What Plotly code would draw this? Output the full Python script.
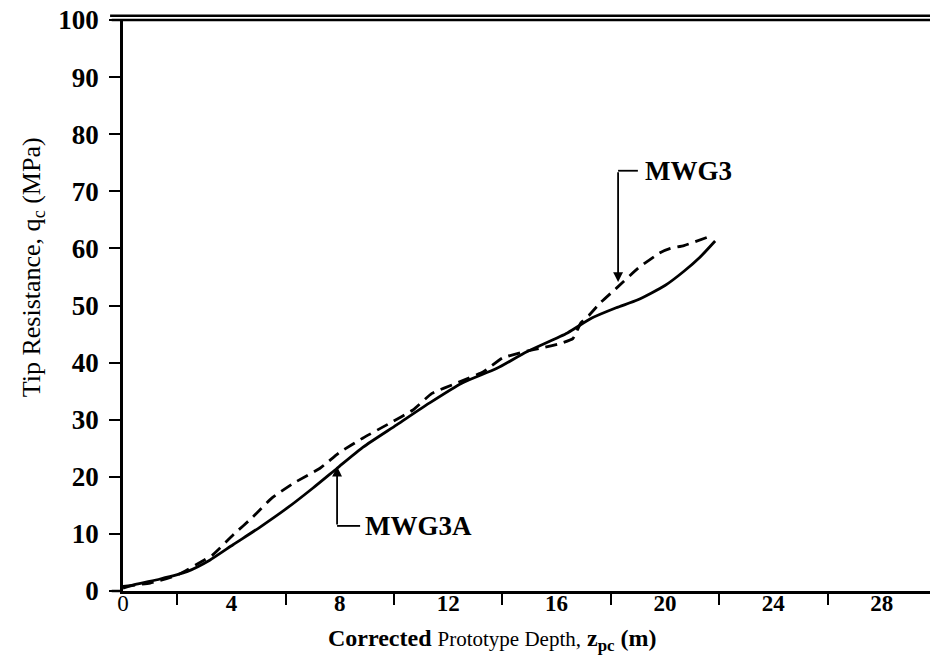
import plotly.graph_objects as go

# ---- data ----
mwg3a_depth = [0, 0.5, 1.37, 2.36, 3.2, 4.06, 5.06, 6.05, 7.0, 7.9, 8.86, 10.1, 11.3,
               12.5, 13.8, 14.9, 16.4, 17.3, 18.2, 19.0, 20.0, 20.7, 21.3, 21.85]
mwg3a_qc = [0.5, 1.2, 2.1, 3.4, 5.4, 8.1, 11.2, 14.5, 18.0, 21.5, 25.2, 29.1, 32.9,
            36.4, 39.0, 41.9, 45.2, 47.8, 49.6, 51.0, 53.5, 56.0, 58.5, 61.3]

mwg3_depth = [0, 1.0, 2.0, 3.3, 4.06, 4.8, 5.5, 6.3, 7.27, 8.0, 8.86, 9.85, 10.7, 11.4,
              12.3, 13.3, 14.0, 14.8, 15.5, 16.1, 16.6, 16.9, 17.2, 17.6, 18.2, 19.0,
              19.8, 20.2, 20.7, 21.6]
mwg3_qc = [0.8, 1.4, 2.8, 6.3, 9.8, 13.0, 16.3, 18.9, 21.5, 24.3, 26.8, 29.4, 31.7, 34.6,
           36.4, 38.4, 40.8, 41.9, 42.6, 43.3, 44.2, 47.0, 48.3, 50.4, 53.0, 56.5,
           59.2, 60.0, 60.5, 62.0]

x_label_vals = [0, 4, 8, 12, 16, 20, 24, 28]
x_label_text = ["0", "<b>4</b>", "<b>8</b>", "<b>12</b>", "<b>16</b>", "<b>20</b>",
                "<b>24</b>", "<b>28</b>"]
x_minor_vals = [2, 6, 10, 14, 18, 22, 26]
y_tick_vals = [0, 10, 20, 30, 40, 50, 60, 70, 80, 90, 100]

# annotation labels: (name, arrow tip x, tip y, corner y, leader end x, text x)
labels = [
    ("MWG3A", 7.9, 21.8, 11.4, 8.75, 8.86),
    ("MWG3", 18.27, 54.1, 73.6, 19.0, 19.2),
]

SERIF = "Liberation Serif, Times New Roman, serif"

fig = go.Figure()
fig.add_trace(go.Scatter(x=mwg3a_depth, y=mwg3a_qc, mode="lines", name="MWG3A",
                         line=dict(color="black", width=2.8, shape="spline", smoothing=0.6)))
fig.add_trace(go.Scatter(x=mwg3_depth, y=mwg3_qc, mode="lines", name="MWG3",
                         line=dict(color="black", width=2.8, dash="12px,7px",
                                   shape="spline", smoothing=0.4)))

shapes = [
    # x-axis extension to the left of the y axis
    dict(type="line", xref="paper", yref="paper", x0=-0.014, x1=0, y0=0, y1=0,
         line=dict(color="black", width=2.5)),
    # top frame line (double line)
    dict(type="line", xref="paper", yref="paper", x0=-0.014, x1=1, y0=1, y1=1,
         line=dict(color="black", width=2.5)),
    dict(type="line", xref="paper", yref="paper", x0=-0.016, x1=1, y0=1.0075, y1=1.0075,
         line=dict(color="black", width=2.5)),
]
annotations = []
for name, tx, ty, cy, lx, txt_x in labels:
    annotations.append(dict(x=tx, y=ty, ax=tx, ay=cy, xref="x", yref="y",
                            axref="x", ayref="y", text="", showarrow=True,
                            arrowhead=2, arrowsize=1.1, arrowwidth=1.8,
                            arrowcolor="black", standoff=0))
    shapes.append(dict(type="line", xref="x", yref="y", x0=tx, x1=lx, y0=cy, y1=cy,
                       line=dict(color="black", width=1.8)))
    annotations.append(dict(x=txt_x, y=cy, xref="x", yref="y", text="<b>%s</b>" % name,
                            showarrow=False, xanchor="left", yanchor="middle",
                            font=dict(family=SERIF, size=27, color="black")))

annotations.append(dict(
    x=-0.1115, y=0.567, xref="paper", yref="paper", textangle=-90, showarrow=False,
    text="Tip Resistance, q<sub>c</sub> (MPa)", xanchor="center", yanchor="middle",
    font=dict(family=SERIF, size=26, color="black")))
annotations.append(dict(
    x=0.457, y=-0.086, xref="paper", yref="paper", showarrow=False,
    text="<b>Corrected</b> <span style='font-size:21px'>Prototype Depth,</span> "
         "<b>z<sub>pc</sub> (m)</b>",
    xanchor="center", yanchor="middle",
    font=dict(family=SERIF, size=24, color="black")))

fig.update_layout(
    width=930, height=665,
    margin=dict(l=123, r=0, t=20, b=74, autoexpand=False),
    paper_bgcolor="white", plot_bgcolor="white",
    showlegend=False,
    shapes=shapes, annotations=annotations,
    xaxis=dict(range=[0, 29.78], showgrid=False, zeroline=False, automargin=False,
               showline=True, linecolor="black", linewidth=2.5,
               tickmode="array", tickvals=x_label_vals, ticktext=x_label_text,
               ticks="", ticklabelstandoff=-10,
               tickfont=dict(family=SERIF, size=23, color="black"),
               minor=dict(tickmode="array", tickvals=x_minor_vals, ticks="outside",
                          ticklen=11, tickwidth=2, tickcolor="black", showgrid=False)),
    yaxis=dict(range=[0, 100], showgrid=False, zeroline=False, automargin=False,
               showline=True, linecolor="black", linewidth=2.5,
               tickmode="array", tickvals=y_tick_vals,
               ticks="outside", ticklen=11, tickwidth=2, tickcolor="black",
               ticklabelstandoff=5,
               tickfont=dict(family=SERIF, size=27, color="black", weight="bold")),
)

fig.write_html("out.html",
               config={"displayModeBar": False},
               post_script="document.body.style.margin='0px';"
                           "document.body.style.padding='0px';")
